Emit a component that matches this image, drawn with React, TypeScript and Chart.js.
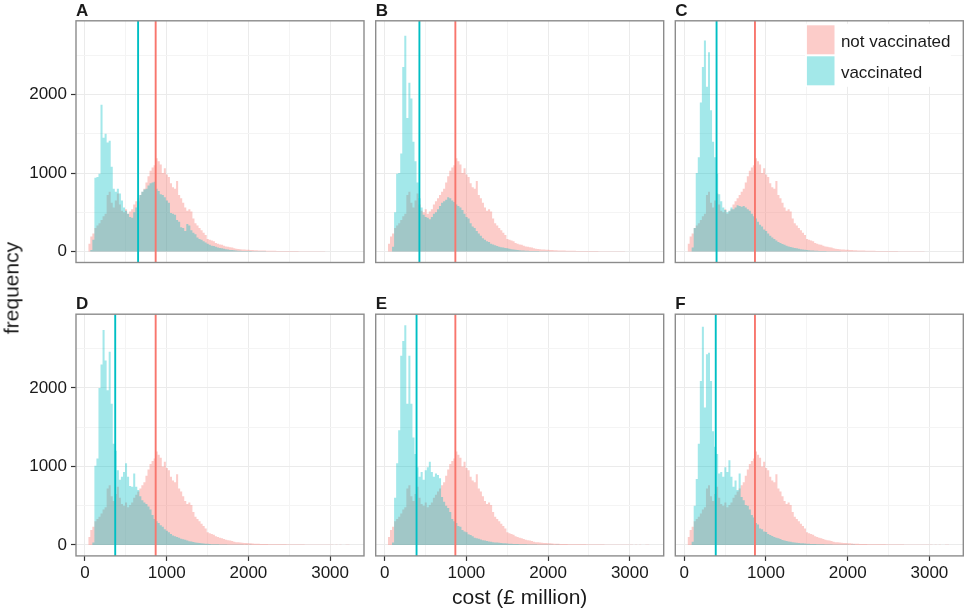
import { useEffect, useRef } from 'react';
import { Chart, registerables } from 'chart.js';

Chart.register(...registerables);

const FONT = '"Liberation Sans", Arial, Helvetica, sans-serif';
Chart.defaults.font.family = FONT;

// histogram bins, £ million: left edge of the first bin and bin width
const BIN_START = 40;
const BIN_WIDTH = 25;

const X_TICKS = [0, 500, 1000, 1500, 2000, 2500, 3000];
const Y_TICKS = [0, 500, 1000, 1500, 2000, 2500];

const PANEL_LABELS = ['A', 'B', 'C', 'D', 'E', 'F'];
const SERIES_LABELS = ['not vaccinated', 'vaccinated'];

// counts per bin
const NOT_VACCINATED = [
  100, 190, 230, 300, 330, 360, 400, 450, 480, 720,
  760, 620, 560, 650, 740, 600, 520, 500, 540, 480,
  510, 540, 600, 640, 680, 720, 760, 800, 880, 960,
  1030, 1070, 1100, 1190, 1150, 1110, 1000, 1060, 980, 950,
  870, 820, 800, 900, 720, 680, 620, 560, 520, 540,
  510, 420, 360, 330, 300, 270, 240, 210, 160, 150,
  140, 130, 110, 100, 90, 85, 75, 65, 60, 55,
  50, 40, 35, 33, 30, 27, 25, 23, 22, 20,
  18, 16, 15, 14, 13, 12, 12, 11, 10, 10,
  9, 9, 8, 8, 8, 7, 7, 6, 6, 6,
  5, 5, 5, 4, 4, 4, 3, 3, 3, 3,
  2, 2, 2, 2, 2, 2, 1, 1, 1, 1,
  0, 1, 0, 1, 0, 0, 1, 1,
];

const VACCINATED_A = [
  0, 20, 150, 940, 950, 990, 1870, 1450, 1500, 1390,
  1410, 1080, 800, 760, 800, 740, 650, 560, 520, 480,
  440, 430, 500, 560, 640, 720, 760, 790, 800, 840,
  870, 880, 890, 800, 770, 730, 720, 690, 650, 620,
  490, 480, 470, 400, 380, 310, 300, 260, 350, 330,
  270, 240, 220, 180, 160, 150, 130, 115, 100, 85,
  75, 70, 60, 50, 45, 40, 35, 30, 25, 20,
  18, 15, 12, 10, 9, 8, 7, 6, 5, 5,
  4, 4, 3, 3, 2, 2, 2, 1, 1, 1,
  1, 0, 1, 0, 0, 1,
];

const VACCINATED_B = [
  0, 0, 60, 500, 990, 1000, 1250, 2350, 2750, 1700,
  2150, 1950, 1400, 1150, 880, 680, 560, 470, 440, 430,
  410, 440, 480, 500, 540, 580, 620, 640, 660, 690,
  680, 650, 630, 600, 580, 560, 530, 480, 440, 420,
  360, 320, 300, 260, 230, 200, 170, 150, 130, 120,
  100, 90, 80, 70, 60, 55, 50, 45, 40, 35,
  30, 26, 22, 19, 16, 14, 12, 10, 9, 8,
  7, 6, 5, 5, 4, 3, 3, 2, 2, 1,
  1, 1, 0, 1, 1,
];

const VACCINATED_C = [
  0, 0, 50, 300, 1000, 1200, 1900, 2350, 2690, 2100,
  2540, 1800, 1400, 1200, 990, 730, 640, 560, 530, 500,
  520, 560, 540, 560, 590, 580, 570, 580, 560, 540,
  520, 480, 450, 420, 380, 340, 320, 280, 260, 230,
  200, 180, 160, 140, 120, 110, 95, 85, 75, 65,
  58, 50, 45, 40, 35, 30, 26, 22, 19, 16,
  14, 12, 10, 9, 8, 7, 6, 5, 4, 4,
  3, 3, 2, 2, 2, 1, 1, 1, 0, 1,
];

const VACCINATED_D = [
  0, 0, 30, 1010, 1100, 2000, 2300, 2740, 2350, 1970,
  2460, 1800, 1290, 1200, 950, 830, 870, 930, 1040, 870,
  750, 740, 910, 740, 700, 620, 570, 540, 520, 490,
  450, 380, 330, 300, 280, 250, 230, 200, 180, 160,
  140, 120, 110, 100, 90, 80, 72, 65, 55, 48,
  42, 38, 32, 28, 24, 21, 18, 16, 14, 12,
  10, 9, 8, 7, 6, 5, 4, 4, 3, 3,
  2, 2, 2, 1, 1, 1, 0, 1, 0, 1,
];

const VACCINATED_E = [
  0, 0, 30, 600, 1040, 1460, 2410, 2600, 2800, 1800,
  2410, 1800, 1370, 1160, 990, 870, 930, 830, 950, 990,
  1060, 930, 870, 910, 890, 850, 610, 550, 500, 470,
  420, 330, 300, 280, 240, 230, 190, 170, 160, 135,
  125, 110, 90, 85, 80, 70, 60, 55, 50, 45,
  40, 35, 32, 30, 28, 25, 22, 20, 18, 16,
  14, 13, 12, 11, 10, 9, 8, 7, 6, 5,
  5, 4, 4, 3, 3, 2, 2, 2, 1, 1,
  1, 0, 1, 1,
];

const VACCINATED_F = [
  0, 0, 40, 500, 840, 1290, 2090, 2780, 1750, 2430,
  2450, 2090, 1450, 1250, 1160, 910, 930, 870, 990, 930,
  1080, 870, 740, 820, 700, 910, 610, 570, 510, 500,
  450, 380, 350, 280, 260, 210, 200, 170, 165, 140,
  125, 115, 100, 90, 85, 75, 62, 55, 50, 45,
  40, 35, 30, 28, 25, 22, 20, 18, 16, 14,
  13, 12, 11, 10, 9, 8, 7, 6, 5, 4,
  4, 3, 3, 2, 2, 2, 1, 1, 1, 0,
  1, 1,
];

const VACCINATED = [VACCINATED_A, VACCINATED_B, VACCINATED_C, VACCINATED_D, VACCINATED_E, VACCINATED_F];

// mean cost lines
const NOT_VACCINATED_MEAN = 865;
const VACCINATED_MEANS = [650, 425, 395, 370, 390, 385];

// ggplot-like look
const RED = '#F8766D';
const TEAL = '#00BFC4';
const RED_FILL = 'rgba(248,118,109,0.37)';
const TEAL_FILL = 'rgba(0,191,196,0.36)';
const RED_KEY = '#FCCCC9';
const TEAL_KEY = '#A3E8E9';
const GRID_MAJOR = '#EBEBEB';
const GRID_MINOR = '#F4F4F4';
const TEXT = '#1A1A1A';

// page layout (px)
const COL_LEFT = [76, 375.7, 675.3];
const ROW_TOP = [20.8, 314.2];
const PANEL_W = 288;
const PANEL_H = 241.7;
const X_RANGE = [-110, 3415];
const Y_RANGE = [-140, 2940];

const toSteps = (counts: number[]) => [
  ...counts.map((c, i) => ({ x: BIN_START + i * BIN_WIDTH, y: c })),
  { x: BIN_START + counts.length * BIN_WIDTH, y: 0 },
];

const panelDecor = {
  id: 'panelDecor',
  afterDatasetsDraw(chart: any, _args: any, opts: any) {
    const { ctx, chartArea: a, scales } = chart;
    ctx.save();
    ctx.lineWidth = 1.9;
    for (const m of opts.means) {
      const px = scales.x.getPixelForValue(m.value);
      ctx.strokeStyle = m.color;
      ctx.beginPath();
      ctx.moveTo(px, a.top);
      ctx.lineTo(px, a.bottom);
      ctx.stroke();
    }
    ctx.restore();
  },
  afterDraw(chart: any, _args: any, opts: any) {
    const { ctx, chartArea: a } = chart;
    ctx.save();
    ctx.strokeStyle = '#8C8C8C';
    ctx.lineWidth = 1.4;
    ctx.strokeRect(a.left, a.top, a.right - a.left, a.bottom - a.top);

    ctx.fillStyle = TEXT;
    ctx.textAlign = 'left';
    ctx.textBaseline = 'alphabetic';
    ctx.font = `bold 17px ${FONT}`;
    ctx.fillText(opts.label, a.left, a.top - 5);

    if (opts.legend) {
      const kx = a.left + 131.6;
      ctx.fillStyle = '#fff';
      ctx.fillRect(kx - 2, a.top + 3, 146, 63);
      ctx.font = `17px ${FONT}`;
      opts.legend.forEach((item: any, i: number) => {
        const ky = a.top + 4.5 + i * 31;
        ctx.fillStyle = item.key;
        ctx.fillRect(kx, ky, 27.6, 29);
        ctx.fillStyle = TEXT;
        ctx.fillText(item.text, kx + 34, ky + 21.8);
      });
    }
    ctx.restore();
  },
};

function Panel({ index }: { index: number }) {
  const ref = useRef<HTMLCanvasElement>(null);
  const col = index % 3;
  const row = Math.floor(index / 3);
  const showY = col === 0;
  const showX = row === 1;

  const plotL = COL_LEFT[col];
  const plotT = ROW_TOP[row];
  const plotR = plotL + PANEL_W;
  const plotB = plotT + PANEL_H;
  const left = showY ? 0 : Math.floor(plotL) - 4;
  const top = Math.floor(plotT) - 20;
  const right = Math.ceil(plotR) + 3;
  const bottom = showX ? Math.ceil(plotB) + 32 : Math.ceil(plotB) + 3;
  const width = right - left;
  const height = bottom - top;
  const yAxisW = plotL - left;
  const xAxisH = bottom - plotB;

  useEffect(() => {
    if (!ref.current) return;
    const major = (c: any) => c.tick && c.tick.value % 1000 === 0;
    const chart = new Chart(ref.current, {
      type: 'line',
      data: {
        datasets: [
          {
            label: SERIES_LABELS[1],
            data: toSteps(VACCINATED[index]),
            stepped: 'before',
            fill: 'origin',
            backgroundColor: TEAL_FILL,
            borderColor: 'rgba(0,0,0,0)',
            borderWidth: 0,
            pointRadius: 0,
            order: 1,
          },
          {
            label: SERIES_LABELS[0],
            data: toSteps(NOT_VACCINATED),
            stepped: 'before',
            fill: 'origin',
            backgroundColor: RED_FILL,
            borderColor: 'rgba(0,0,0,0)',
            borderWidth: 0,
            pointRadius: 0,
            order: 2,
          },
        ],
      },
      options: {
        animation: false,
        responsive: false,
        events: [],
        layout: {
          padding: {
            left: showY ? 0 : yAxisW,
            top: plotT - top,
            right: right - plotR,
            bottom: showX ? 0 : xAxisH,
          },
        },
        plugins: {
          legend: { display: false },
          tooltip: { enabled: false },
          panelDecor: {
            label: PANEL_LABELS[index],
            means: [
              { value: VACCINATED_MEANS[index], color: TEAL },
              { value: NOT_VACCINATED_MEAN, color: RED },
            ],
            legend:
              index === 2
                ? [
                    { text: SERIES_LABELS[0], key: RED_KEY },
                    { text: SERIES_LABELS[1], key: TEAL_KEY },
                  ]
                : null,
          },
        } as any,
        scales: {
          x: {
            type: 'linear',
            min: X_RANGE[0],
            max: X_RANGE[1],
            afterBuildTicks: (s: any) => {
              s.ticks = X_TICKS.map((value) => ({ value }));
            },
            afterFit: (s: any) => {
              s.height = showX ? xAxisH : 0;
              s.paddingLeft = 0;
              s.paddingRight = 0;
            },
            ticks: {
              display: showX,
              autoSkip: false,
              maxRotation: 0,
              padding: 2.5,
              color: TEXT,
              font: { size: 17 },
              callback: (v: any) => (Number(v) % 1000 === 0 ? String(v) : ''),
            },
            grid: {
              color: (c: any) => (major(c) ? GRID_MAJOR : GRID_MINOR),
              lineWidth: 1,
              drawTicks: showX,
              tickLength: 5,
              tickWidth: 1.2,
              tickColor: (c: any) => (major(c) ? '#333' : 'rgba(0,0,0,0)'),
            },
            border: { display: false },
          },
          y: {
            type: 'linear',
            min: Y_RANGE[0],
            max: Y_RANGE[1],
            afterBuildTicks: (s: any) => {
              s.ticks = Y_TICKS.map((value) => ({ value }));
            },
            afterFit: (s: any) => {
              s.width = showY ? yAxisW : 0;
              s.paddingTop = 0;
              s.paddingBottom = 0;
            },
            ticks: {
              display: showY,
              autoSkip: false,
              padding: 4,
              color: TEXT,
              font: { size: 17 },
              callback: (v: any) => (Number(v) % 1000 === 0 ? String(v) : ''),
            },
            grid: {
              color: (c: any) => (major(c) ? GRID_MAJOR : GRID_MINOR),
              lineWidth: 1,
              drawTicks: showY,
              tickLength: 5,
              tickWidth: 1.2,
              tickColor: (c: any) => (major(c) ? '#333' : 'rgba(0,0,0,0)'),
            },
            border: { display: false },
          },
        },
      },
      plugins: [panelDecor],
    } as any);
    return () => chart.destroy();
  }, [index]);

  return (
    <canvas
      ref={ref}
      width={width}
      height={height}
      style={{ position: 'absolute', left, top, width, height }}
    />
  );
}

export default function App() {
  return (
    <div
      style={{
        position: 'absolute',
        left: 0,
        top: 0,
        width: 966,
        height: 611,
        background: '#fff',
        overflow: 'hidden',
        fontFamily: FONT,
        color: TEXT,
      }}
    >
      {PANEL_LABELS.map((_, i) => (
        <Panel key={i} index={i} />
      ))}
      <div
        style={{
          position: 'absolute',
          left: 11.3,
          top: 288,
          fontSize: 21,
          lineHeight: 1,
          whiteSpace: 'nowrap',
          transform: 'translate(-50%, -50%) rotate(-90deg)',
        }}
      >
        frequency
      </div>
      <div
        style={{
          position: 'absolute',
          left: 519.7,
          top: 595.7,
          fontSize: 21,
          lineHeight: 1,
          whiteSpace: 'nowrap',
          transform: 'translate(-50%, -50%)',
        }}
      >
        cost (£ million)
      </div>
    </div>
  );
}
